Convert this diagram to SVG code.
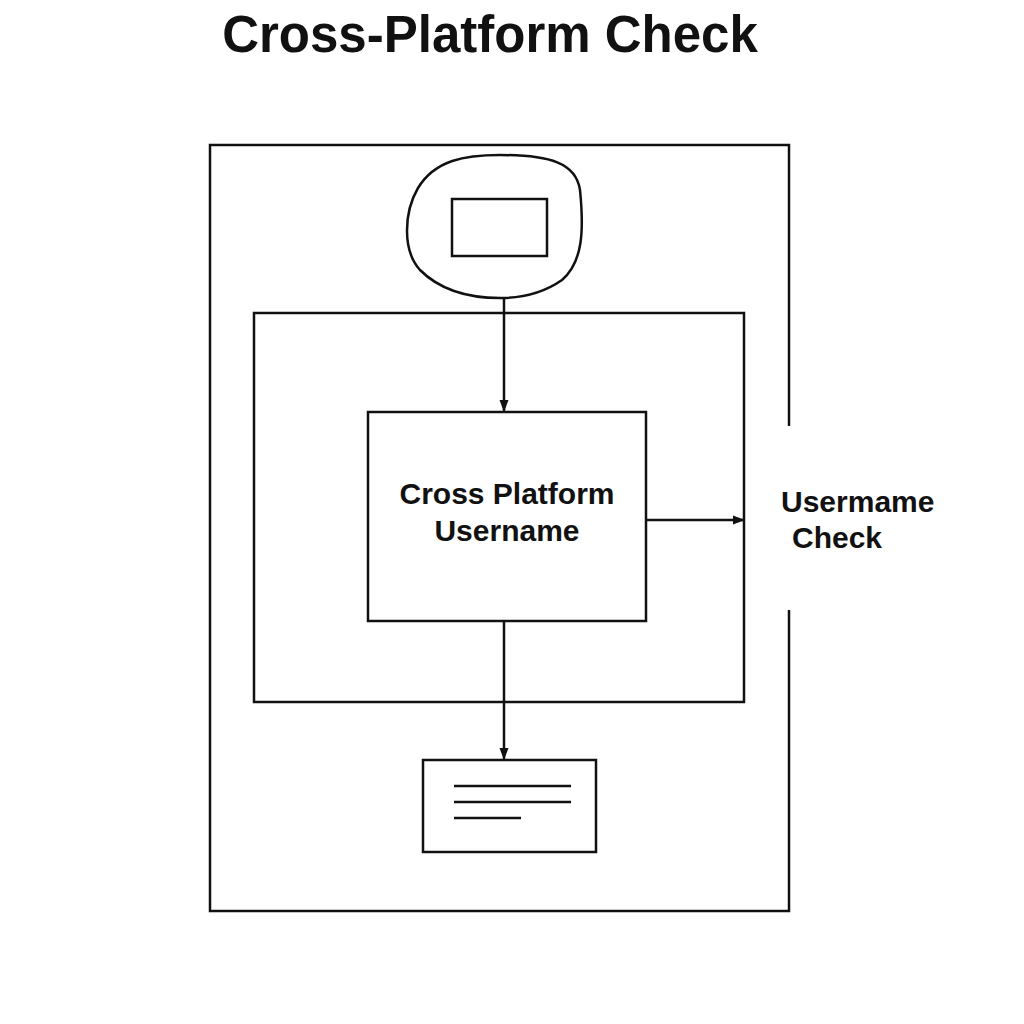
<svg xmlns="http://www.w3.org/2000/svg" width="1024" height="1024" viewBox="0 0 1024 1024">
<defs>
<style>
.ln{fill:none;stroke:#111;stroke-width:2.5}
.bx{fill:#fff;stroke:#111;stroke-width:2.5}
.t{font-family:"Liberation Sans",Arial,sans-serif;font-weight:bold;fill:#111}
</style>
<marker id="ah" markerWidth="12" markerHeight="12" refX="11" refY="6" orient="auto" markerUnits="userSpaceOnUse">
<path d="M0,1.5 L12,6 L0,10.5 Z" fill="#111"/>
</marker>
</defs>
<rect width="1024" height="1024" fill="#fff"/>
<text class="t" x="490" y="52" font-size="51" text-anchor="middle">Cross-Platform Check</text>
<g id="frame">
<path class="ln" d="M789,426 L789,145 L210,145 L210,911 L789,911 L789,610"/>
</g>
<g id="container">
<rect class="ln" x="254" y="313" width="490" height="389"/>
</g>
<g id="start">
<path class="bx" d="M500,155 C550,155 576,163 580,190 C584,230 583,262 562,280 C542,294 522,298 500,298 C468,298 440,290 420,270 C402,250 404,212 418,188 C435,160 465,155 500,155 Z"/>
<rect class="ln" x="452" y="199" width="95" height="57"/>
</g>
<g id="main">
<rect class="bx" x="368" y="412" width="278" height="209"/>
<text class="t" x="507" y="504" font-size="30" text-anchor="middle">Cross Platform</text>
<text class="t" x="507" y="541" font-size="30" text-anchor="middle">Username</text>
</g>
<g id="result">
<rect class="bx" x="423" y="760" width="173" height="92"/>
<path class="ln" d="M454,786 H571 M454,802 H571 M454,818 H521"/>
</g>
<g id="label">
<text class="t" x="781" y="512" font-size="30">Usermame</text>
<text class="t" x="792" y="548" font-size="30">Check</text>
</g>
<g id="connectors">
<path class="ln" d="M504,298 V411" marker-end="url(#ah)"/>
<path class="ln" d="M646,520 H744" marker-end="url(#ah)"/>
<path class="ln" d="M504,621 V759" marker-end="url(#ah)"/>
</g>
</svg>
